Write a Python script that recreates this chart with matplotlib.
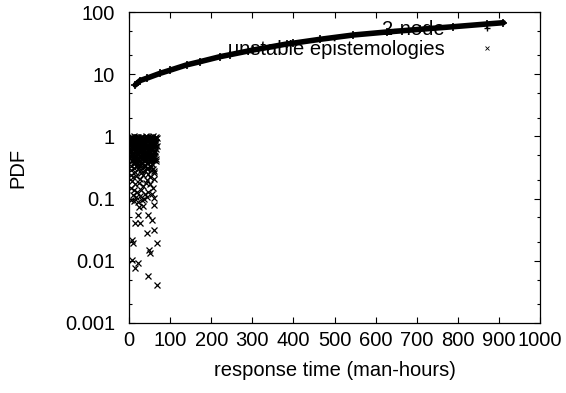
import numpy as np
import matplotlib.pyplot as plt
from matplotlib.lines import Line2D
from matplotlib.ticker import LogLocator, FuncFormatter

plt.rcParams['font.family'] = ['Liberation Sans', 'DejaVu Sans']

# --- dados ---
# curva "2-node"
node_x = [15, 27, 43, 75, 100, 140, 173, 221, 246, 302, 384, 399, 465, 546, 627, 708, 789, 870, 911]
node_y = [6.7, 7.9, 8.6, 10.3, 11.6, 14.1, 15.9, 19.1, 20.6, 24.5, 30.6, 31.5, 36.4, 42.7, 47.7, 52.7, 58.0, 64.1, 67.3]

# nuvem "unstable epistemologies"
epi_x = [5, 9, 13, 17, 21, 25, 29, 33, 37, 41, 45, 49, 53, 57, 61, 65,
         3, 7, 11, 15, 19, 23, 27, 31, 35, 39, 43, 47, 51, 55, 59, 63, 67,
         4, 8, 12, 16, 20, 24, 28, 32, 36, 40, 44, 48, 52, 56, 60, 64,
         6, 10, 14, 18, 22, 26, 30, 34, 38, 42, 46, 50, 54, 58, 62, 66,
         4, 8, 12, 16, 20, 24, 28, 32, 36, 40, 44, 48, 52, 56, 60, 64,
         3, 7, 11, 15, 19, 23, 27, 31, 35, 39, 43, 47, 51, 55, 59, 63, 67,
         5, 9, 13, 17, 21, 25, 29, 33, 37, 41, 45, 49, 53, 57, 61, 66,
         4, 8, 12, 16, 20, 24, 28, 32, 36, 40, 44, 48, 52, 56, 60, 64,
         3, 7, 11, 15, 19, 23, 27, 31, 35, 39, 43, 47, 51, 55, 59, 63,
         6, 10, 14, 18, 22, 26, 30, 34, 38, 42, 46, 50, 54, 58, 62,
         5, 9, 13, 17, 21, 25, 29, 33, 37, 41, 45, 49, 53, 57, 61, 65,
         4, 8, 12, 16, 20, 24, 28, 32, 36, 40, 44, 48, 52, 56, 60, 65,
         7, 11, 15, 19, 23, 27, 31, 35, 39, 43, 47, 51, 55, 59,
         5, 13, 21, 29, 37, 45, 53, 61,
         6, 14, 22, 30, 38, 46, 54, 62,
         4, 10, 18, 27, 35, 43, 52, 60,
         7, 15, 24, 33, 41, 50, 58,
         5, 12, 20, 29, 38, 47, 55,
         9, 17, 26, 36, 44, 60,
         4, 13, 21, 31,
         61.6, 24.3, 34.8, 21.2, 47.0, 55.2, 14.6, 26.8, 44.5, 61.6,
         6.6, 10.5, 67.4, 48.7, 51.0, 6.6, 22.6, 14.6, 47.0, 67.4]
epi_y = [0.98, 0.93, 1.0, 0.88, 0.97, 0.91, 0.99, 0.86, 0.95, 1.0, 0.9, 0.96, 0.87, 0.99, 0.92, 0.97,
         0.95, 0.87, 0.92, 0.99, 0.85, 0.94, 0.89, 0.97, 0.9, 0.86, 0.98, 0.92, 0.95, 0.89, 1.0, 0.9, 0.94,
         0.9, 0.97, 0.84, 0.93, 0.99, 0.88, 0.95, 0.91, 0.85, 0.96, 0.92, 0.88, 0.99, 0.93, 0.86, 0.95,
         0.82, 0.76, 0.85, 0.79, 0.72, 0.81, 0.74, 0.83, 0.77, 0.7, 0.84, 0.75, 0.8, 0.73, 0.78, 0.82,
         0.78, 0.71, 0.74, 0.82, 0.77, 0.69, 0.79, 0.73, 0.8, 0.75, 0.71, 0.78, 0.7, 0.76, 0.81, 0.72,
         0.74, 0.8, 0.7, 0.76, 0.72, 0.79, 0.67, 0.77, 0.73, 0.8, 0.69, 0.74, 0.78, 0.71, 0.75, 0.79, 0.7,
         0.68, 0.62, 0.66, 0.6, 0.64, 0.57, 0.67, 0.59, 0.63, 0.56, 0.65, 0.58, 0.61, 0.66, 0.55, 0.62,
         0.6, 0.55, 0.63, 0.58, 0.52, 0.61, 0.56, 0.64, 0.54, 0.6, 0.53, 0.62, 0.57, 0.51, 0.59, 0.56,
         0.57, 0.64, 0.52, 0.6, 0.55, 0.5, 0.62, 0.53, 0.58, 0.51, 0.57, 0.63, 0.54, 0.6, 0.5, 0.58,
         0.52, 0.47, 0.5, 0.44, 0.53, 0.46, 0.49, 0.43, 0.51, 0.45, 0.48, 0.42, 0.5, 0.46, 0.41,
         0.48, 0.44, 0.42, 0.49, 0.45, 0.4, 0.47, 0.43, 0.46, 0.41, 0.44, 0.48, 0.42, 0.45, 0.49, 0.43,
         0.46, 0.42, 0.39, 0.47, 0.41, 0.44, 0.38, 0.45, 0.4, 0.43, 0.37, 0.44, 0.39, 0.42, 0.45, 0.4,
         0.4, 0.36, 0.39, 0.34, 0.38, 0.33, 0.37, 0.32, 0.35, 0.31, 0.38, 0.33, 0.36, 0.3,
         0.34, 0.31, 0.35, 0.29, 0.33, 0.3, 0.32, 0.28,
         0.29, 0.27, 0.3, 0.26, 0.28, 0.25, 0.29, 0.26,
         0.24, 0.22, 0.23, 0.21, 0.24, 0.2, 0.22, 0.21,
         0.19, 0.17, 0.18, 0.16, 0.18, 0.17, 0.15,
         0.15, 0.14, 0.13, 0.14, 0.12, 0.13, 0.12,
         0.115, 0.105, 0.11, 0.1, 0.108, 0.102,
         0.095, 0.09, 0.088, 0.094,
         0.079, 0.072, 0.076, 0.054, 0.054, 0.045, 0.040, 0.040, 0.0277, 0.031,
         0.0216, 0.0191, 0.0195, 0.0149, 0.0132, 0.0103, 0.0091, 0.0076, 0.0057, 0.0041]

xticks = [0, 100, 200, 300, 400, 500, 600, 700, 800, 900, 1000]

FS = 14.5

fig = plt.figure(figsize=(5.66, 3.93), dpi=100)
ax = fig.add_axes([129 / 566, 70 / 393, 411 / 566, 311 / 393])

ax.plot(node_x, node_y, color='black', linewidth=4.0, solid_capstyle='round', zorder=3)
ax.plot(node_x, node_y, linestyle='none', marker='+', markersize=5.5, markeredgewidth=1.2,
        color='black', zorder=3)
ax.plot(epi_x, epi_y, linestyle='none', marker='x', markersize=4.2,
        markeredgewidth=0.9, color='black', zorder=3)

ax.set_yscale('log')
ax.set_xlim(0, 1000)
ax.set_ylim(0.001, 100)
ax.set_xticks(xticks)
ax.xaxis.set_major_formatter(FuncFormatter(lambda v, p: f"{v:g}"))
ax.yaxis.set_major_locator(LogLocator(base=10, numticks=10))
ax.yaxis.set_minor_locator(LogLocator(base=10, subs=[2, 5], numticks=10))
ax.yaxis.set_major_formatter(FuncFormatter(lambda v, p: f"{v:g}"))
ax.yaxis.set_minor_formatter(FuncFormatter(lambda v, p: ""))

ax.tick_params(which='both', direction='in', top=True, right=True, labelsize=FS, width=0.8)
ax.tick_params(which='major', length=4.5)
ax.tick_params(which='minor', length=2.5)
ax.tick_params(axis='x', which='major', pad=6)
ax.tick_params(axis='y', which='major', pad=10)
for s in ax.spines.values():
    s.set_linewidth(0.9)

ax.set_xlabel("response time (man-hours)", fontsize=FS, labelpad=8)
ax.set_ylabel("PDF", fontsize=FS, labelpad=27)

handles = [Line2D([], [], linestyle='none', marker='+', markersize=5, color='black'),
           Line2D([], [], linestyle='none', marker='x', markersize=3.5, markeredgewidth=0.6, color='black')]
leg = ax.legend(handles, ["2-node", "unstable epistemologies"], loc='upper right',
                bbox_to_anchor=(0.92, 1.006), frameon=False, markerfirst=False,
                fontsize=FS, handlelength=1.0, handletextpad=1.6, labelspacing=0.05,
                borderpad=0)
leg.set_zorder(1)

plt.savefig("out.png", dpi=100)
